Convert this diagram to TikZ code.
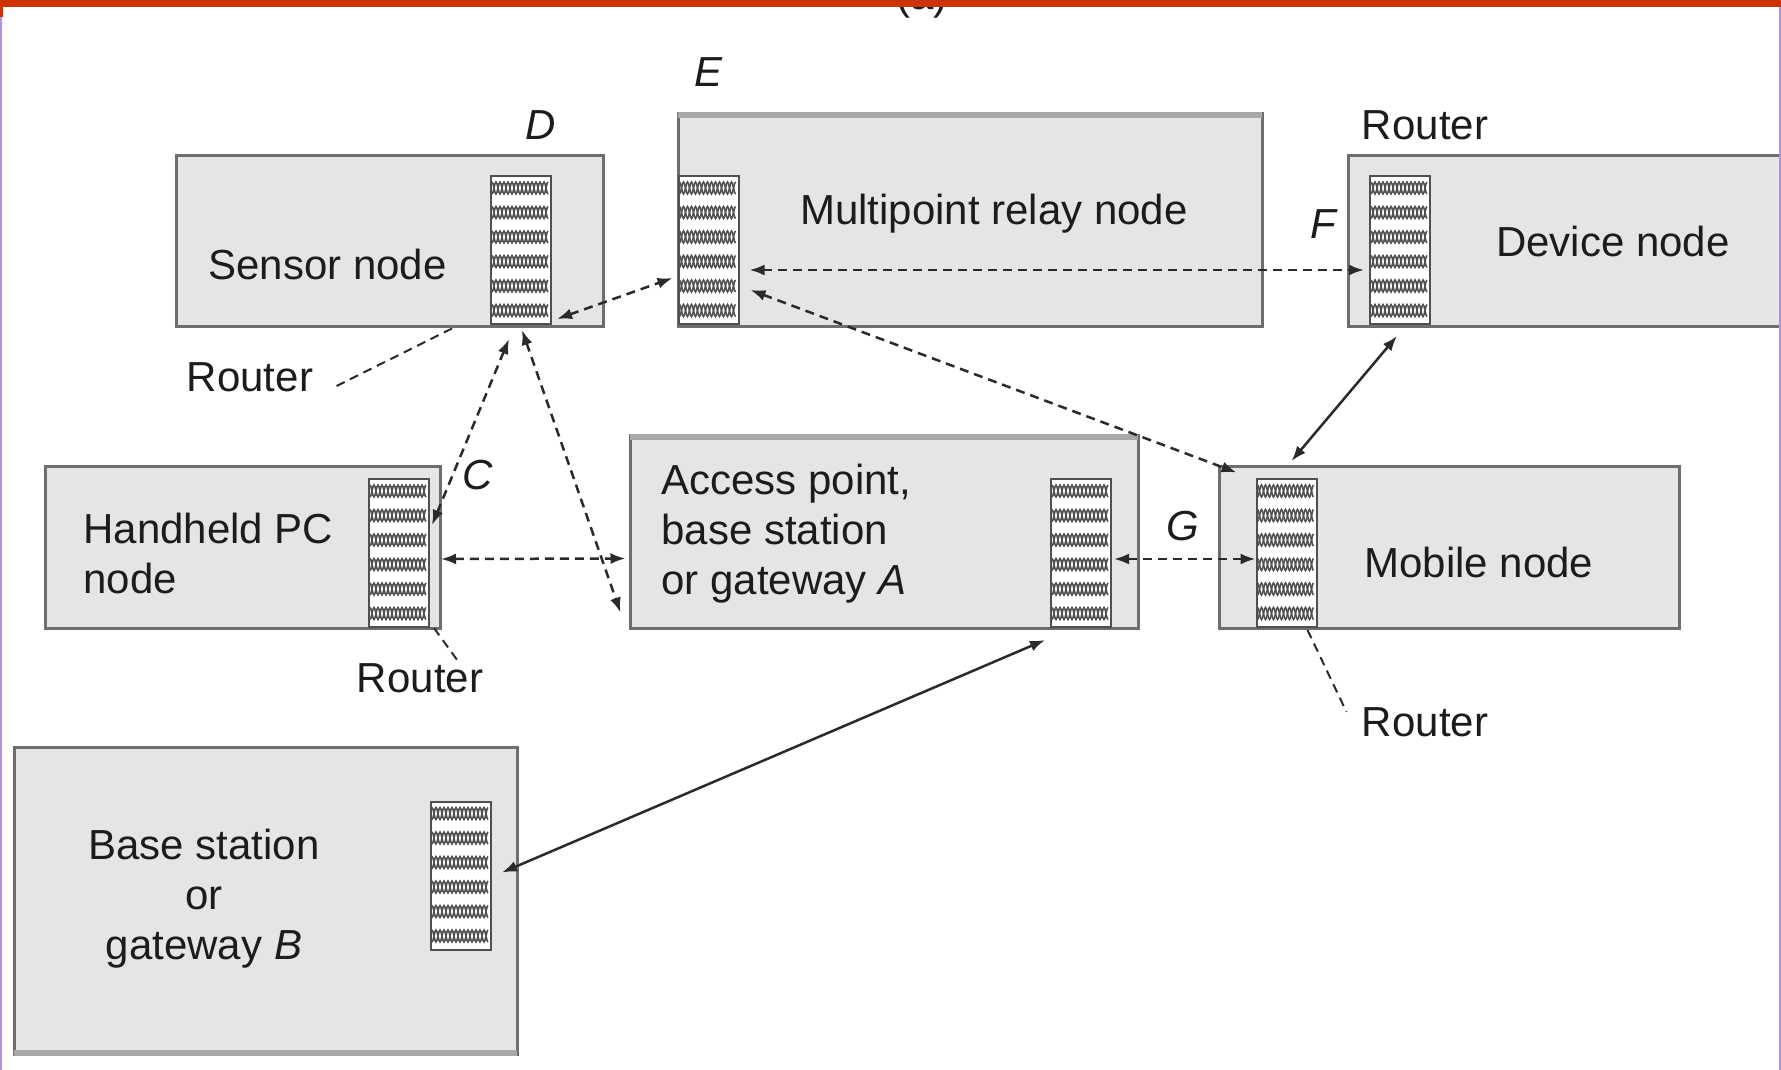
\documentclass[tikz,border=0pt]{standalone}
\usepackage{fontspec}
\setmainfont{Liberation Sans}
\usetikzlibrary{arrows.meta,positioning,calc}

\definecolor{boxfill}{HTML}{E5E5E5}
\definecolor{boxline}{HTML}{6E6E6E}
\definecolor{rtrline}{HTML}{505050}
\definecolor{linkcol}{HTML}{2A2A2A}
\definecolor{textcol}{HTML}{1C1C1C}
\definecolor{topbar}{HTML}{CC3300}
\definecolor{edgecol}{HTML}{B48EEA}

\begin{document}
\begin{tikzpicture}[
  x=1pt, y=-1pt,
  font=\fontsize{42}{50}\selectfont,
  nodebox/.style={rectangle, draw=boxline, fill=boxfill, line width=3pt, inner sep=0pt},
  rtr/.style={rectangle, draw=rtrline, fill=white, line width=2pt, minimum width=60pt,
    minimum height=148pt, inner sep=0pt},
  weave/.style={rtrline, line width=1.6pt},
  link/.style={<->, >={Latex[length=15pt,width=11pt]}, line width=2.5pt, dash pattern=on 9pt off 6pt, draw=linkcol},
  wire/.style={<->, >={Latex[length=15pt,width=11pt]}, line width=2.5pt, draw=linkcol},
  leader/.style={line width=2pt, dash pattern=on 9pt off 6pt, draw=linkcol},
  txt/.style={text=textcol},
  tag/.style={text=textcol, font=\fontsize{42}{50}\selectfont\itshape}
]
\useasboundingbox (0,0) rectangle (1781,1070);
\clip (0,0) rectangle (1781,1070);

% Boxes
\node[nodebox, minimum width=427pt, minimum height=170pt] (sen) at (389.5,241) {};
\node[nodebox, minimum width=584pt, minimum height=212pt] (relay) at (970,220) {};
\node[nodebox, minimum width=442pt, minimum height=170pt] (dev) at (1569,241) {};
\node[nodebox, minimum width=395pt, minimum height=162pt] (hh) at (242.5,547) {};
\node[nodebox, minimum width=508pt, minimum height=193pt] (acc) at (884,531.5) {};
\node[nodebox, minimum width=460pt, minimum height=162pt] (mob) at (1449,547) {};
\node[nodebox, minimum width=503pt, minimum height=307pt] (bs) at (265.5,900.5) {};

% Shaded edges
\draw[line width=6pt, draw=boxline!60] ($(relay.north west)+(1.5,3)$) -- ($(relay.north east)+(-1.5,3)$);
\draw[line width=6pt, draw=boxline!60] ($(acc.north west)+(1.5,3)$) -- ($(acc.north east)+(-1.5,3)$);
\draw[line width=6pt, draw=boxline!60] ($(bs.south west)+(1.5,-3)$) -- ($(bs.south east)+(-1.5,-3)$);

% Routers
\node[rtr] (rtrS) at (521,250) {};
\node[rtr] (rtrE) at (708.5,250) {};
\node[rtr] (rtrF) at (1400,250) {};
\node[rtr] (rtrH) at (399,553) {};
\node[rtr] (rtrA) at (1081,553) {};
\node[rtr] (rtrM) at (1286.5,553) {};
\node[rtr] (rtrB) at (461,875.5) {};

\foreach \r in {rtrS,rtrE,rtrF,rtrH,rtrA,rtrM,rtrB}{
  \begin{scope}[shift={(\r.north west)}]
    \foreach \k in {0,...,5}{
      \draw[weave] plot[domain=2:58, samples=57, smooth] (\x,{13+\k*24.5+6*sin(\x*45)});
      \draw[weave] plot[domain=2:58, samples=57, smooth] (\x,{13+\k*24.5-6*sin(\x*45)});
    }
  \end{scope}
}

% Texts
\node[txt] (tS) at ($(sen.center)+(-62,23)$) {Sensor node};
\node[txt] (tR) at ($(relay.center)+(24,-6)$) {Multipoint relay node};
\node[txt] (tD) at ($(dev.center)+(44,0)$) {Device node};
\node[txt, align=left, anchor=west] (tH) at (80,553) {Handheld PC\\node};
\node[txt, align=left, anchor=west] (tA) at (658,534) {Access point,\\base station\\or gateway \textit{A}};
\node[txt] (tM) at ($(mob.center)+(30,15)$) {Mobile node};
\node[txt, align=center] (tB) at (204,899) {Base station\\or\\gateway \textit{B}};

% Letters
\node[tag] (lD) at (541,125) {D};
\node[tag] (lE) at (708,72) {E};
\node[tag] (lF) at (1323,224) {F};
\node[tag] (lG) at (1183,526) {G};
\node[tag] (lC) at (478,475) {C};
\node[txt, anchor=base] (cap) at (922,10) {(a)};

% Router labels
\node[txt] (rlF) at (1425,125) {Router};
\node[txt] (rlS) at (250,377) {Router};
\node[txt] (rlH) at (420,678) {Router};
\node[txt] (rlM) at (1425,722) {Router};
\draw[leader] ($(rlS.east)+(20,9)$) -- ($(sen.south)+(64.5,0)$);
\draw[leader] ($(rtrH.south east)+(4,0)$) -- ($(rlH.north)+(37,0)$);
\draw[leader] ($(rtrM.south east)+(-10,2)$) -- ($(rlM.north west)+(-12,8)$);

% Links
\draw[link] ($(rtrS.south east)+(5,-6)$) -- ($(rtrE.west)+(-5,28)$);
\draw[link] ($(rtrE.east)+(10,20)$) -- ($(rtrF.west)+(-5,20)$);
\draw[link] ($(rtrE.east)+(11,40)$) -- ($(mob.north west)+(19,8)$);
\draw[wire] ($(rtrF.south)+(-3,11)$) -- ($(rtrM.north)+(5,-17)$);
\draw[link] ($(rtrS.south)+(-12,14)$) -- ($(rtrH.east)+(2,-28)$);
\draw[link] ($(rtrS.south)+(1,5)$) -- ($(acc.south west)+(-8,-17)$);
\draw[link] ($(rtrH.east)+(11,6)$) -- ($(acc.west)+(-3,27)$);
\draw[link] ($(rtrA.east)+(2,6)$) -- ($(rtrM.west)+(0,6)$);
\draw[wire] ($(rtrA.south)+(-36,12)$) -- ($(rtrB.east)+(10,-3)$);

% Frame
\fill[topbar] (0,0) rectangle (1781,7);
\fill[topbar] (0,0) rectangle (3,17);
\draw[edgecol, line width=2pt] (1,17) -- (1,1070);
\draw[edgecol, line width=2pt] (1780,7) -- (1780,1070);

\end{tikzpicture}
\end{document}
